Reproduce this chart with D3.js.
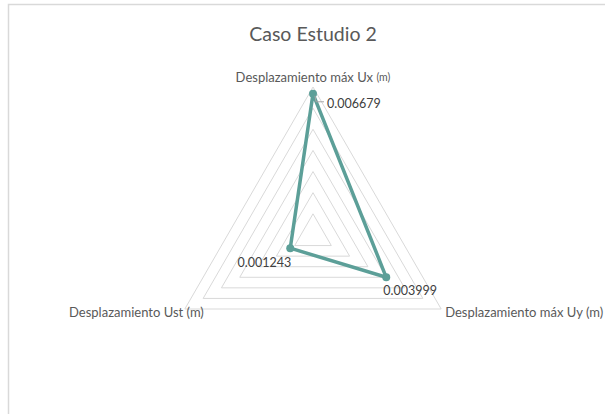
<!DOCTYPE html>
<html>
<head>
<meta charset="utf-8">
<script src="https://cdn.jsdelivr.net/npm/d3@7"></script>
<style>
  body { margin: 0; background: #fff; }
  svg { display: block; font-family: Lato, "Open Sans", sans-serif; }
</style>
</head>
<body>
<div id="chart"></div>
<script>

// ---- data ----
var categories = ['Desplazamiento máx Ux', 'Desplazamiento máx Uy', 'Desplazamiento Ust'];
var units = ['(m)', '(m)', '(m)'];
var values = [0.006679, 0.003999, 0.001243];
var valueLabels = ['0.006679', '0.003999', '0.001243'];
var ringTicks = [0.001, 0.002, 0.003, 0.004, 0.005, 0.006, 0.007];

// svg properties
var W = 605, H = 414,
    cx = 313, cy = 235, R = 148,
    teal = '#5c9f98', grid = '#d9d9d9';

var svg = d3.select('#chart').append('svg')
    .attr('width', W).attr('height', H);

// chart border
svg.append('rect')
    .attr('x', 8.5).attr('y', 4.5)
    .attr('width', 620).attr('height', 430)
    .attr('fill', 'none').attr('stroke', grid).attr('stroke-width', 1.5);

// title
svg.append('text')
    .attr('x', cx).attr('y', 41)
    .attr('text-anchor', 'middle')
    .attr('font-size', 19.5).attr('fill', '#595959')
    .text('Caso Estudio 2');

// radial scale
var rScale = d3.scaleLinear().domain([0, 0.007]).range([0, R]);

// angle for each category, starting at top, clockwise
var angle = d3.scalePoint().domain(d3.range(categories.length + 1)).range([0, 2 * Math.PI]);
function pt(i, v) {
    var a = angle(i);
    return [cx + rScale(v) * Math.sin(a), cy - rScale(v) * Math.cos(a)];
}

// grid rings
var line = d3.line();
svg.append('g').selectAll('path')
    .data(ringTicks).enter()
    .append('path')
    .attr('d', function (t) { return line(categories.map(function (c, i) { return pt(i, t); })) + 'Z'; })
    .attr('fill', 'none').attr('stroke', grid).attr('stroke-width', 1);

// series line
var pts = values.map(function (v, i) { return pt(i, v); });
svg.append('path')
    .attr('d', line(pts) + 'Z')
    .attr('fill', 'none').attr('stroke', teal)
    .attr('stroke-width', 3.5).attr('stroke-linejoin', 'round');

svg.append('g').selectAll('circle')
    .data(pts).enter()
    .append('circle')
    .attr('cx', function (d) { return d[0]; })
    .attr('cy', function (d) { return d[1]; })
    .attr('r', 4).attr('fill', teal);

// leader line for the top label
var p0 = pts[0];
svg.append('path')
    .attr('d', line([[p0[0] + 2, p0[1] + 2], [p0[0] + 3, p0[1] + 8], [p0[0] + 11, p0[1] + 8]]))
    .attr('fill', 'none').attr('stroke', '#a6a6a6').attr('stroke-width', 1);

// data labels (offsets from each point)
var labOff = [[14, 14, 'start'], [-3, 18, 'start'], [1, 19, 'end']];
svg.append('g').selectAll('text')
    .data(pts).enter()
    .append('text')
    .attr('x', function (d, i) { return d[0] + labOff[i][0]; })
    .attr('y', function (d, i) { return d[1] + labOff[i][1]; })
    .attr('text-anchor', function (d, i) { return labOff[i][2]; })
    .attr('font-size', 12.5).attr('fill', '#404040')
    .text(function (d, i) { return valueLabels[i]; });

// category labels
var outer = categories.map(function (c, i) { return pt(i, 0.007); });
var catPos = [
    { dx: 0, dy: -5, anchor: 'middle' },
    { dx: 4, dy: 8, anchor: 'start' },
    { dx: 19, dy: 8, anchor: 'end' }
];
var cats = svg.append('g').selectAll('text')
    .data(categories).enter()
    .append('text')
    .attr('x', function (d, i) { return outer[i][0] + catPos[i].dx; })
    .attr('y', function (d, i) { return outer[i][1] + catPos[i].dy; })
    .attr('text-anchor', function (d, i) { return catPos[i].anchor; })
    .attr('font-size', 13).attr('fill', '#595959');
cats.append('tspan').text(function (d) { return d + ' '; });
cats.append('tspan')
    .attr('font-size', function (d, i) { return i === 0 ? 10.5 : 13; })
    .attr('dy', function (d, i) { return i === 0 ? -1 : 0; })
    .text(function (d, i) { return units[i]; });

</script>
</body>
</html>
